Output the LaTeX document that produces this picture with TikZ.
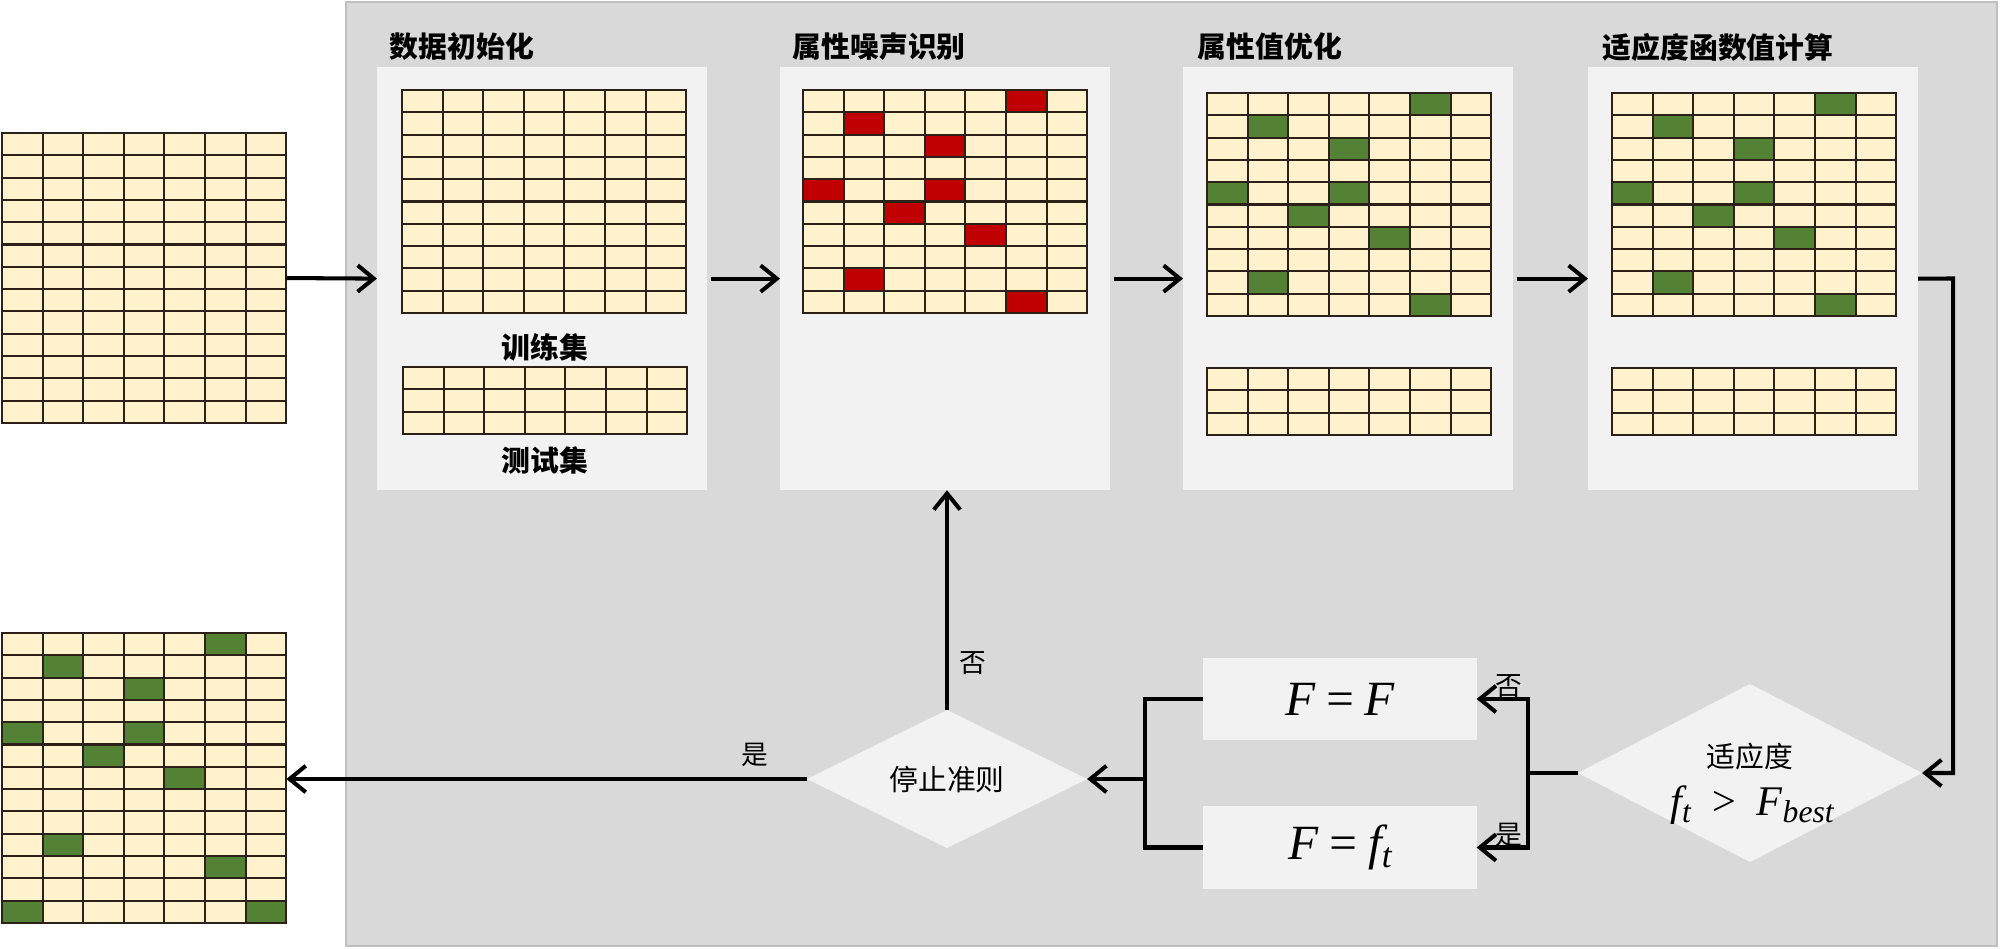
\documentclass[tikz,border=0pt]{standalone}
\usepackage{fontspec}
\usetikzlibrary{shapes.geometric,arrows.meta}
\newfontfamily\cjk{Noto Sans CJK SC}
\newfontfamily\tnr{Liberation Serif}
\definecolor{bggray}{HTML}{D9D9D9}
\definecolor{bgedge}{HTML}{BFBFBF}
\definecolor{panelc}{HTML}{F2F2F2}
\definecolor{cellc}{HTML}{FFF2CC}
\definecolor{redc}{HTML}{C00000}
\definecolor{greenc}{HTML}{548235}
\definecolor{linec}{HTML}{2B2118}
\tikzset{
  gridl/.style={draw=linec,line width=0.6pt,line cap=rect},
  gridnode/.style={draw=none,inner sep=0pt,outer sep=0pt,anchor=north west,minimum width=2.842cm},
  panel/.style={fill=panelc,draw=none,inner sep=0pt,outer sep=0pt,anchor=north west,minimum width=3.30cm,minimum height=4.23cm},
  titletext/.style={inner sep=0pt,anchor=west,font=\fontsize{8.2pt}{10pt}\cjk\bfseries},
  settext/.style={inner sep=0pt,font=\fontsize{8.2pt}{10pt}\cjk\bfseries},
  cjklabel/.style={inner sep=0pt,font=\fontsize{7.6pt}{9pt}\cjk},
  decision/.style={diamond,fill=panelc,draw=none,inner sep=0pt,outer sep=0pt,shape aspect=2},
  assignbox/.style={fill=panelc,draw=none,inner sep=0pt,outer sep=0pt,minimum width=2.73cm,minimum height=0.82cm,font=\fontsize{14pt}{16pt}\tnr\itshape},
  arr/.style={line width=1.15pt,-{Straight Barb[length=4.6pt,width=7.5pt,line width=1.15pt]}},
  conn/.style={line width=1.15pt},
}
% #1 name, #2 x, #3 y, #4 rows, #5 colour, #6 list col/row
\newcommand{\datagrid}[6]{%
  \node[gridnode,minimum height={#4*0.223cm}] (#1) at (#2,#3) {};
  \fill[cellc] (#2,#3) rectangle ++(284.2,{#4*22.3});
  \foreach \c/\r in {#6}{\fill[#5] ({#2+\c*40.6},{#3+\r*22.3}) rectangle ++(40.6,22.3);}
  \foreach \i in {0,...,7}{\draw[gridl] ({#2+\i*40.6},#3) -- ++(0,{#4*22.3});}
  \foreach \j in {0,...,#4}{\draw[gridl] (#2,{#3+\j*22.3}) -- ++(284.2,0);}
}
\begin{document}
\begin{tikzpicture}[x=0.01cm,y=-0.01cm]
\useasboundingbox (0,0) rectangle (2000,949);
% background
\fill[white] (0,0) rectangle (2000,949);
\draw[fill=bggray,draw=bgedge,line width=0.6pt] (346,2) rectangle (1997,946);
% panels
\node[panel] (p1) at (377,67) {};
\node[panel] (p2) at (780,67) {};
\node[panel] (p3) at (1183,67) {};
\node[panel] (p4) at (1588,67) {};
% titles
\node[titletext] (t1) at (389,47) {数据初始化};
\node[titletext] (t2) at (792,47) {属性噪声识别};
\node[titletext] (t3) at (1197,47) {属性值优化};
\node[titletext] (t4) at (1602,47) {适应度函数值计算};
% input / output grids
\datagrid{inp}{2}{133}{13}{cellc}{0/0}
\datagrid{outg}{2}{633}{13}{greenc}{5/0,1/1,3/2,0/4,3/4,2/5,4/6,1/9,5/10,0/12,6/12}
% panel grids
\datagrid{g1}{402}{90}{10}{cellc}{0/0}
\datagrid{s1}{403}{367}{3}{cellc}{0/0}
\datagrid{g2}{803}{90}{10}{redc}{5/0,1/1,3/2,0/4,3/4,2/5,4/6,1/8,5/9}
\datagrid{g3}{1207}{93}{10}{greenc}{5/0,1/1,3/2,0/4,3/4,2/5,4/6,1/8,5/9}
\datagrid{s3}{1207}{368}{3}{cellc}{0/0}
\datagrid{g4}{1612}{93}{10}{greenc}{5/0,1/1,3/2,0/4,3/4,2/5,4/6,1/8,5/9}
\datagrid{s4}{1612}{368}{3}{cellc}{0/0}
\node[settext] (train) at (545,347) {训练集};
\node[settext] (test) at (545,460) {测试集};
% decisions
\node[decision,minimum width=2.80cm,minimum height=1.38cm,font=\fontsize{8.2pt}{10pt}\cjk] (stop) at (947,779) {停止准则};
\node[decision,minimum width=3.44cm,minimum height=1.78cm] (fit) at (1750,773) {};
\node[inner sep=0pt,font=\fontsize{8.2pt}{10pt}\cjk] (fitl) at (1750,757) {适应度};
\node[inner sep=0pt,font=\fontsize{12pt}{14pt}\tnr\itshape] (fitf) at (1752,805) {f\raisebox{-0.35ex}{\fontsize{9pt}{10pt}\selectfont t}\enspace\upshape{>}\enspace\itshape F\raisebox{-0.35ex}{\fontsize{9pt}{10pt}\selectfont best}};
% assignment boxes
\node[assignbox] (FF) at (1340,699) {F\,=\,F};
\node[assignbox] (Fft) at (1340,847.5) {F\,=\,f\raisebox{-0.35ex}{\fontsize{10pt}{11pt}\selectfont t}};
% connectors top row
\draw[arr] (inp.east) -- (p1.west);
\draw[arr] ([xshift=0.04cm]p1.east) -- (p2.west);
\draw[arr] ([xshift=0.04cm]p2.east) -- (p3.west);
\draw[arr] ([xshift=0.04cm]p3.east) -- (p4.west);
\coordinate (rc) at (1953,278.5);
\draw[arr] (p4.east) -- (rc) |- (fit.east);
% fitness decision to boxes
\coordinate (jr) at (1528,773);
\draw[conn] (fit.west) -- (jr);
\draw[arr] (jr) |- (FF.east);
\draw[arr] (jr) |- (Fft.east);
\node[cjklabel] (no2) at (1509,686) {否};
\node[cjklabel] (yes2) at (1509,835) {是};
% boxes to stop
\coordinate (jl) at (1145,779);
\draw[conn] (FF.west) -| (jl) |- (Fft.west);
\draw[arr] (jl) -- (stop.east);
% stop decision
\draw[arr] (stop.north) -- (stop.north |- p2.south);
\node[cjklabel] (no1) at (973,663) {否};
\draw[arr] (stop.west) -- (outg.east |- stop.west);
\node[cjklabel] (yes1) at (755,755) {是};
\end{tikzpicture}
\end{document}
